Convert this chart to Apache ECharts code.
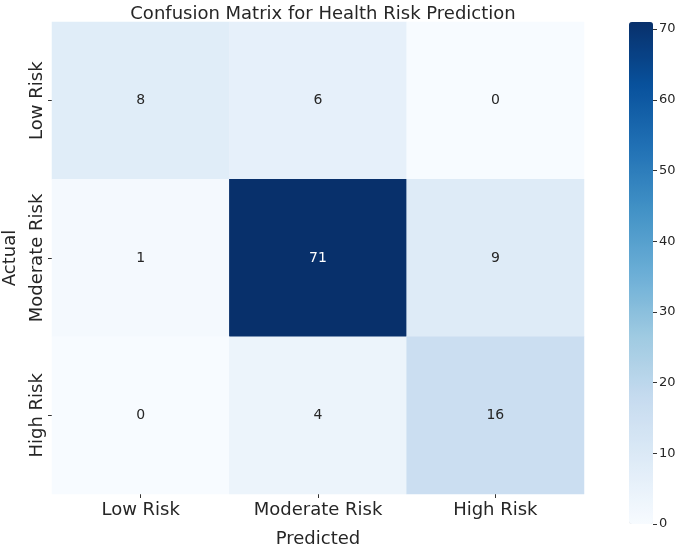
<!DOCTYPE html>
<html><head><meta charset="utf-8">
<script src="https://cdn.jsdelivr.net/npm/echarts@6/dist/echarts.min.js"></script>
<style>html,body{margin:0;padding:0;background:#fff}#c{width:685px;height:545px}</style>
</head><body><div id="c"></div>
<script>
const predictedLabels = ['Low Risk', 'Moderate Risk', 'High Risk'];
const actualLabels = ['Low Risk', 'Moderate Risk', 'High Risk'];
const matrix = [
  [8, 6, 0],
  [1, 71, 9],
  [0, 4, 16]
];
const colorbarTicks = [0, 10, 20, 30, 40, 50, 60, 70];
const vMin = 0, vMax = 71;
const blues = ['#f7fbff','#deebf7','#c6dbef','#9ecae1','#6baed6','#4292c6','#2171b5','#08519c','#08306b'];

const FONT = 'DejaVu Sans';
const data = [];
matrix.forEach((row, r) => row.forEach((v, c) => {
  data.push({ value: [c, r, v], label: { color: v > vMax / 2 ? '#ffffff' : '#262626' } });
}));

const chart = echarts.init(document.getElementById('c'), null, { renderer: 'canvas' });
chart.setOption({
  animation: false,
  backgroundColor: '#ffffff',
  textStyle: { fontFamily: FONT },
  title: {
    text: 'Confusion Matrix for Health Risk Prediction',
    left: 318, textAlign: 'center', top: 0,
    textStyle: { fontFamily: FONT, fontSize: 18, fontWeight: 'normal', color: '#262626' }
  },
  grid: [
    { left: 52, top: 22, width: 532, height: 472, containLabel: false, outerBoundsMode: 'none' },
    { left: 629, top: 22, width: 24, height: 502, containLabel: false, outerBoundsMode: 'none' }
  ],
  xAxis: [
    {
      type: 'category', gridIndex: 0, data: predictedLabels, position: 'bottom',
      axisLine: { show: false },
      axisTick: { show: true, alignWithLabel: true, length: 4, lineStyle: { color: '#333' } },
      axisLabel: { fontFamily: FONT, fontSize: 18, color: '#262626', margin: 7, interval: 0, hideOverlap: false },
      splitLine: { show: false },
      name: 'Predicted', nameLocation: 'middle', nameGap: 36,
      nameTextStyle: { fontFamily: FONT, fontSize: 18, color: '#262626' }
    },
    { type: 'value', gridIndex: 1, show: false, min: 0, max: 1 }
  ],
  yAxis: [
    {
      type: 'category', gridIndex: 0, data: actualLabels, inverse: true,
      axisLine: { show: false },
      axisTick: { show: true, alignWithLabel: true, length: 4, lineStyle: { color: '#333' } },
      axisLabel: { fontFamily: FONT, fontSize: 18, color: '#262626', rotate: 90, margin: 6, interval: 0, hideOverlap: false },
      splitLine: { show: false },
      name: 'Actual', nameLocation: 'middle', nameGap: 33,
      nameTextStyle: { fontFamily: FONT, fontSize: 18, color: '#262626' }
    },
    {
      type: 'value', gridIndex: 1, position: 'right', min: vMin, max: vMax, interval: 10,
      axisLine: { show: false, onZero: false },
      axisTick: { show: true, inside: false, length: 4, lineStyle: { color: '#333' } },
      axisLabel: { fontFamily: FONT, fontSize: 13, color: '#262626', margin: 6, showMaxLabel: false,
        formatter: v => colorbarTicks.includes(v) ? String(v) : '' },
      splitLine: { show: false },
      z: 10
    }
  ],
  visualMap: {
    type: 'continuous', min: vMin, max: vMax, seriesIndex: 0,
    calculable: false, realtime: false,
    left: 629, top: 22, itemWidth: 24, itemHeight: 502, padding: 0,
    text: ['', ''], showLabel: false, hoverLink: false,
    inRange: { color: blues }
  },
  series: [
    {
      type: 'heatmap', xAxisIndex: 0, yAxisIndex: 0, data: data,
      label: { show: true, fontFamily: FONT, fontSize: 14, formatter: p => p.value[2] },
      itemStyle: { borderWidth: 0 },
      emphasis: { disabled: true }
    },
    { type: 'line', xAxisIndex: 1, yAxisIndex: 1, data: [], silent: true }
  ]
});
</script></body></html>
